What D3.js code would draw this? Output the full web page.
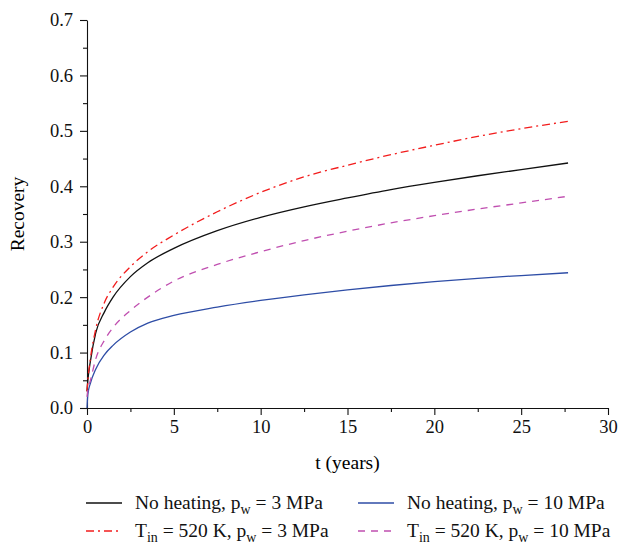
<!DOCTYPE html>
<html>
<head>
<meta charset="utf-8">
<script src="https://cdn.jsdelivr.net/npm/d3@7"></script>
<style>
  body { margin: 0; background: #fff; }
  svg { display: block; }
  svg text { font-family: "Liberation Serif", "DejaVu Serif", serif; }
</style>
</head>
<body>
<div class="c-chart"></div>
<script>
// time points (years)
var years = [0, 0.05, 0.2, 0.5, 1, 1.5, 2.5, 3.5, 5, 7.5, 10, 12.5, 15, 17.5, 20, 22.5, 25, 27.7];

// recovery per case
var noHeat3  = [0.03, 0.05, 0.085, 0.135, 0.173, 0.2, 0.237, 0.262, 0.288, 0.32, 0.344, 0.363, 0.379, 0.394, 0.407, 0.419, 0.43, 0.442];
var heat3    = [0.03, 0.05, 0.09, 0.142, 0.19, 0.218, 0.255, 0.282, 0.312, 0.354, 0.389, 0.417, 0.438, 0.457, 0.474, 0.49, 0.504, 0.517];
var noHeat10 = [0.0, 0.025, 0.045, 0.07, 0.096, 0.113, 0.137, 0.153, 0.167, 0.182, 0.194, 0.204, 0.213, 0.221, 0.228, 0.234, 0.239, 0.244];
var heat10   = [0.02, 0.032, 0.05, 0.088, 0.122, 0.145, 0.176, 0.2, 0.229, 0.259, 0.282, 0.302, 0.319, 0.334, 0.347, 0.359, 0.37, 0.382];

var xTicks = [0, 5, 10, 15, 20, 25, 30];
var yTicks = [0, 0.1, 0.2, 0.3, 0.4, 0.5, 0.6, 0.7];

var xAxisLabel = "t (years)";
var yAxisLabel = "Recovery";

var series = [
    { values: noHeat3,  color: "#111111", dash: null,      label: [["No heating, p", ""], ["w", "sub"], [" = 3 MPa", ""]] },
    { values: noHeat10, color: "#2e4da6", dash: null,      label: [["No heating, p", ""], ["w", "sub"], [" = 10 MPa", ""]] },
    { values: heat3,    color: "#f21c1c", dash: "8,4,2,4", label: [["T", ""], ["in", "sub"], [" = 520 K, p", ""], ["w", "sub"], [" = 3 MPa", ""]] },
    { values: heat10,   color: "#c04fb0", dash: "7,6",     label: [["T", ""], ["in", "sub"], [" = 520 K, p", ""], ["w", "sub"], [" = 10 MPa", ""]] }
];

var margin = { top: 20, right: 20, bottom: 138, left: 87 };
var W = 628, H = 546;
var width = W - margin.left - margin.right;
var height = H - margin.top - margin.bottom;

var svg = d3.select(".c-chart").append("svg")
    .attr("width", W)
    .attr("height", H);

var g = svg.append("g")
    .attr("transform", "translate(" + margin.left + "," + margin.top + ")");

var xScale = d3.scaleLinear().domain([0, 30]).range([0, width]);
var yScale = d3.scaleLinear().domain([0, 0.7]).range([height, 0]);

// minor ticks
g.append("g")
    .attr("transform", "translate(0," + height + ")")
    .call(d3.axisBottom(xScale).tickValues(d3.range(2.5, 30, 5)).tickSize(4).tickFormat(""))
    .call(function (a) { a.select(".domain").remove(); });
g.append("g")
    .call(d3.axisLeft(yScale).tickValues(d3.range(0.05, 0.7, 0.1)).tickSize(4).tickFormat(""))
    .call(function (a) { a.select(".domain").remove(); });

// major axes
var xAxis = g.append("g")
    .attr("transform", "translate(0," + height + ")")
    .call(d3.axisBottom(xScale).tickValues(xTicks).tickSize(7).tickSizeOuter(0).tickPadding(5).tickFormat(d3.format("d")));
var yAxis = g.append("g")
    .call(d3.axisLeft(yScale).tickValues(yTicks).tickSize(7).tickSizeOuter(0).tickPadding(7).tickFormat(d3.format(".1f")));

[xAxis, yAxis].forEach(function (a) {
    a.attr("font-family", null).attr("font-size", 18.5);
    a.selectAll("text").attr("fill", "#111");
    a.selectAll("path").attr("stroke", "#111").attr("stroke-width", 1.1);
});
g.selectAll("line").attr("stroke", "#111").attr("stroke-width", 1.1);

g.append("text")
    .attr("x", width / 2)
    .attr("y", height + 61)
    .attr("text-anchor", "middle")
    .attr("font-size", 19.5)
    .text(xAxisLabel);

g.append("text")
    .attr("transform", "rotate(-90)")
    .attr("x", -height / 2)
    .attr("y", -margin.left + 24)
    .attr("text-anchor", "middle")
    .attr("font-size", 19.5)
    .text(yAxisLabel);

var line = d3.line()
    .x(function (d) { return xScale(d[0]); })
    .y(function (d) { return yScale(d[1]); })
    .curve(d3.curveMonotoneX);

series.forEach(function (s) {
    g.append("path")
        .datum(years.map(function (t, i) { return [t, s.values[i]]; }))
        .attr("fill", "none")
        .attr("stroke", s.color)
        .attr("stroke-width", 1.3)
        .attr("stroke-dasharray", s.dash)
        .attr("d", line);
});

// legend (2 x 2)
var legendPos = [[86, 503], [358, 503], [86, 531], [358, 531]];
series.forEach(function (s, i) {
    var p = legendPos[i];
    var lg = svg.append("g").attr("transform", "translate(" + p[0] + "," + p[1] + ")");
    lg.append("line")
        .attr("x1", 0).attr("x2", 36)
        .attr("stroke", s.color)
        .attr("stroke-width", 1.3)
        .attr("stroke-dasharray", s.dash);
    var txt = lg.append("text")
        .attr("x", 49)
        .attr("y", 6)
        .attr("font-size", 19.5)
        .attr("fill", "#111");
    var prevSub = false;
    s.label.forEach(function (part) {
        var isSub = part[1] === "sub";
        var ts = txt.append("tspan").text(part[0]);
        if (isSub && !prevSub) ts.attr("dy", 5).attr("font-size", 14);
        else if (!isSub && prevSub) ts.attr("dy", -5);
        prevSub = isSub;
    });
});
</script>
</body>
</html>
